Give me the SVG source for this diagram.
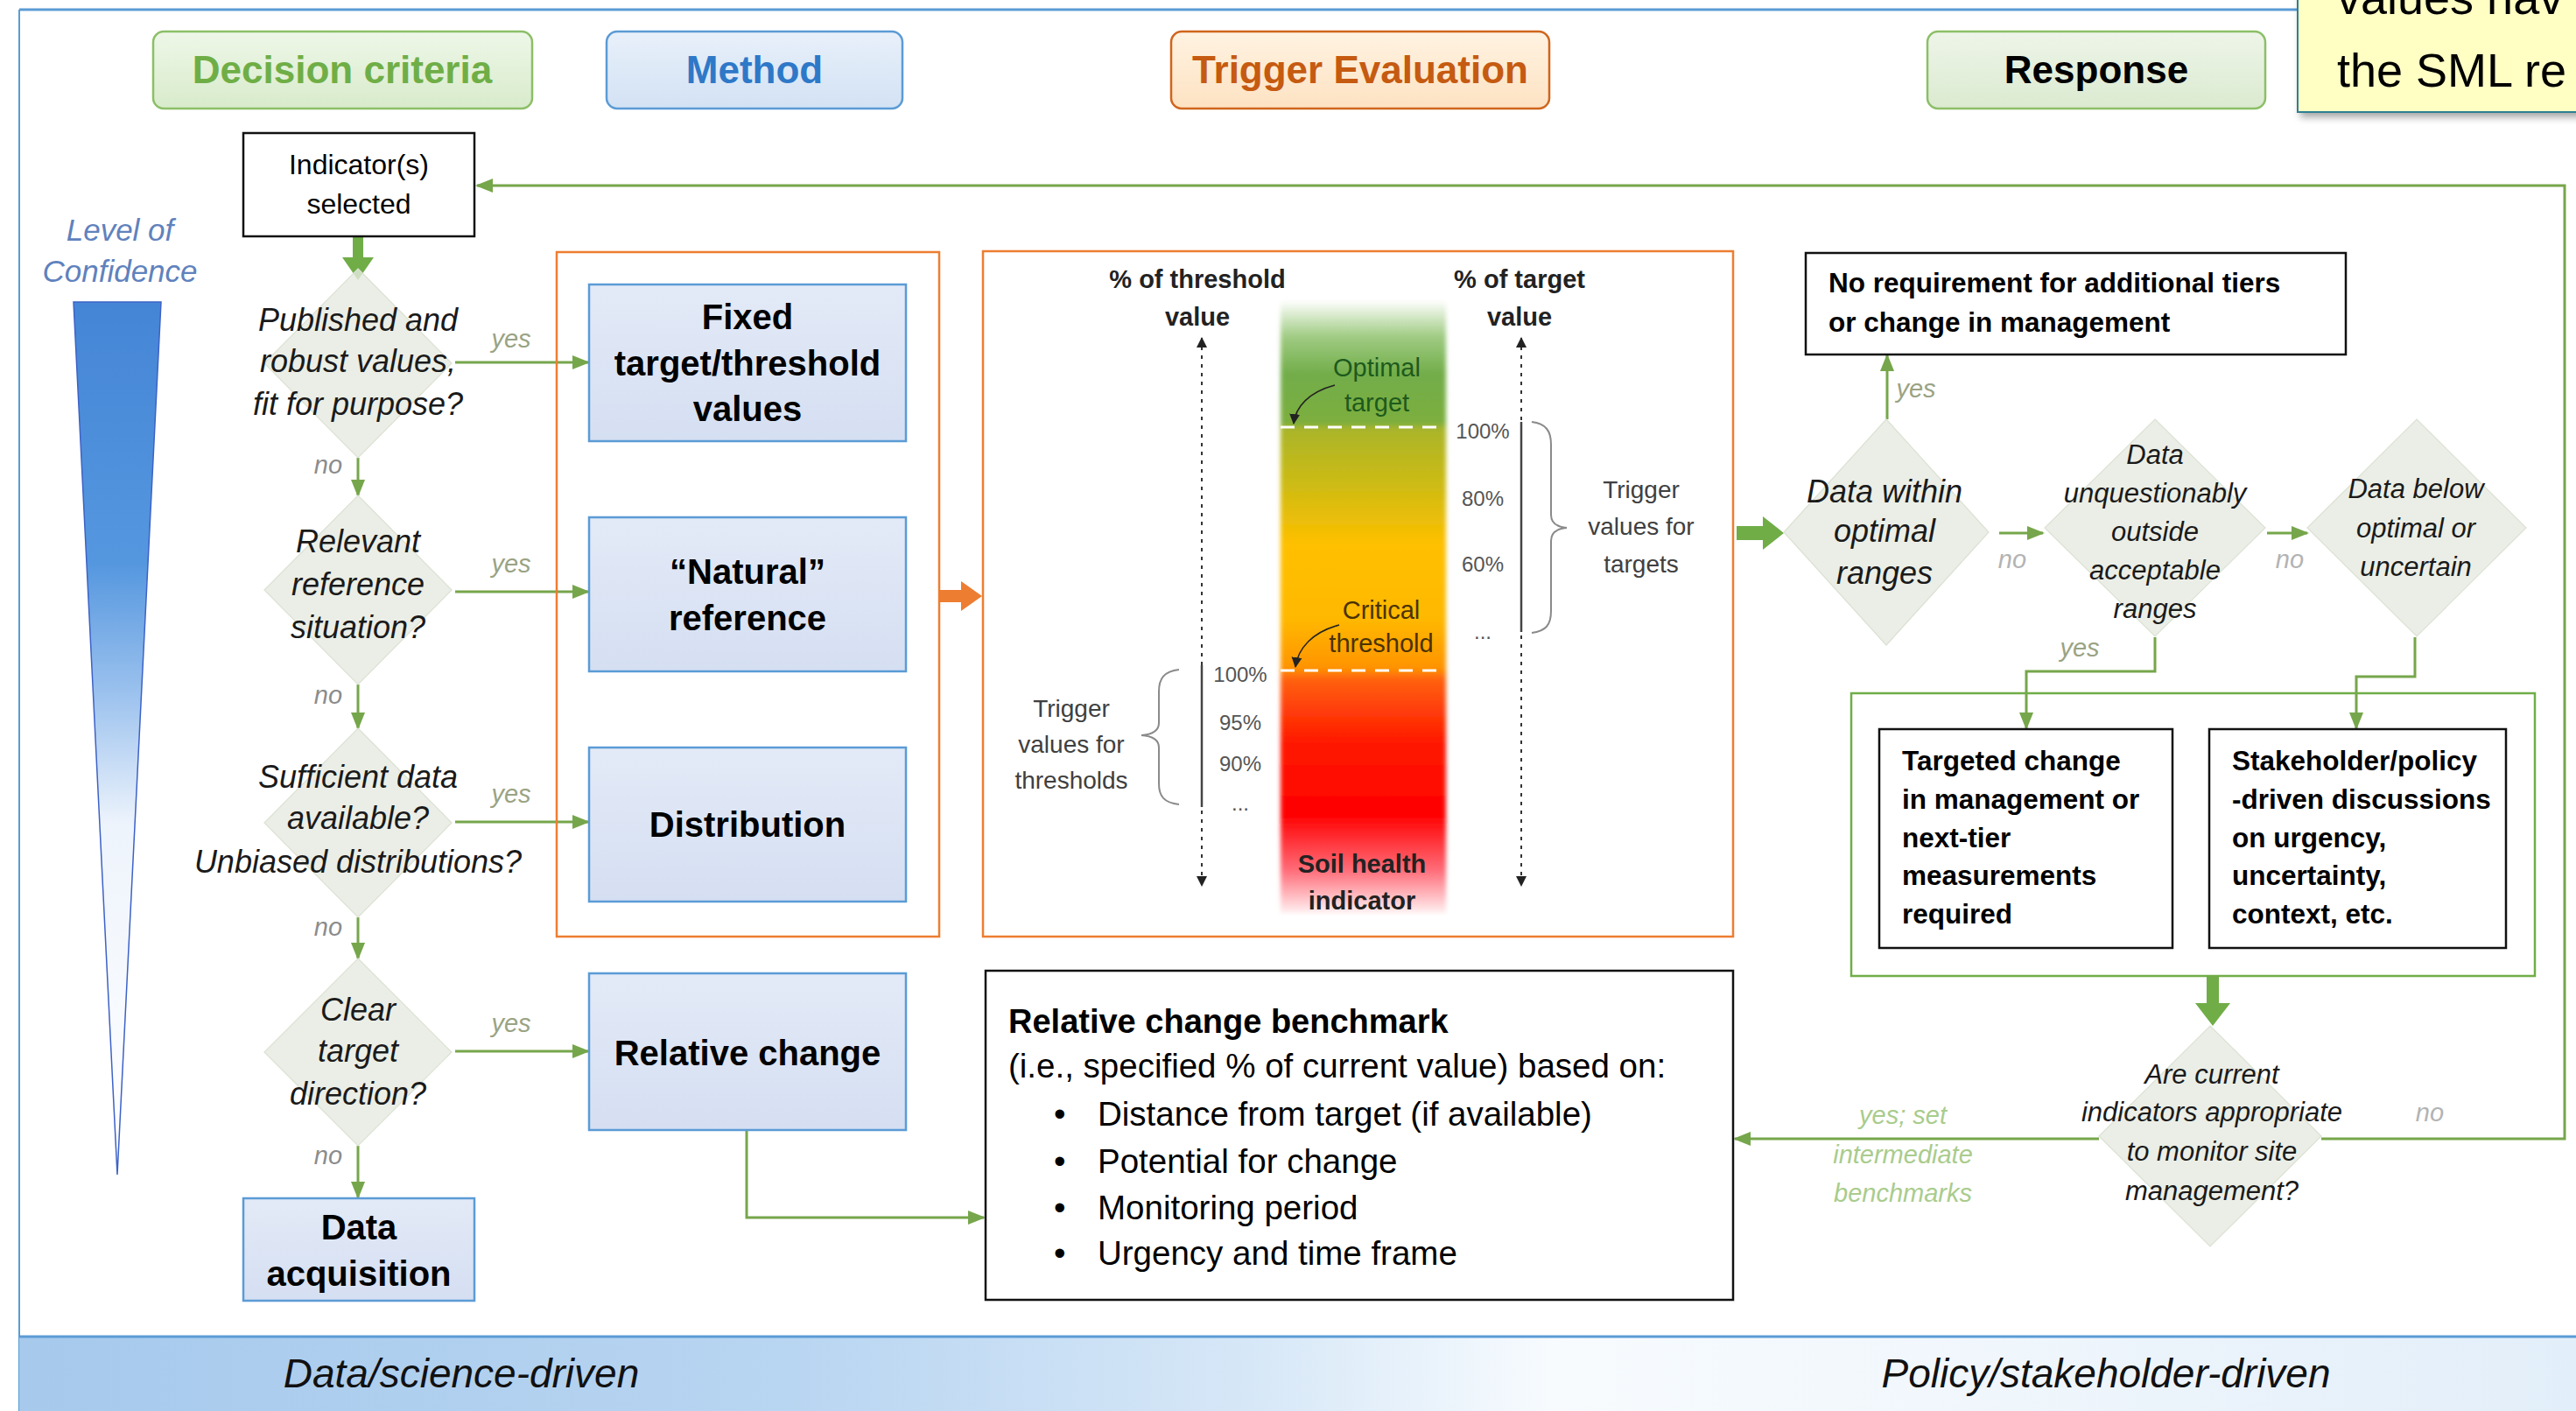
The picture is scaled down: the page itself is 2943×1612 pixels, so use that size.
<svg xmlns="http://www.w3.org/2000/svg" width="2943" height="1612" viewBox="0 0 2943 1612">
  <defs>
    <style>
      text { font-family: "Liberation Sans", Arial, sans-serif; fill: #000; }
      .hdr { font-size: 44px; font-weight: bold; text-anchor: middle; }
      .meth { font-size: 40px; font-weight: bold; text-anchor: middle; }
      .q { font-size: 36px; font-style: italic; text-anchor: middle; fill: #1a1a1a; }
      .qs { font-size: 31px; font-style: italic; text-anchor: middle; fill: #1a1a1a; }
      .lbl { font-size: 29px; font-style: italic; fill: #9aa383; text-anchor: middle; }
      .box { font-size: 31.5px; font-weight: bold; }
      .ax { font-size: 29px; font-weight: bold; text-anchor: middle; fill: #222; }
      .pct { font-size: 24px; text-anchor: middle; fill: #555; }
      .trg { font-size: 28px; text-anchor: middle; fill: #404040; }
      .band { font-size: 46px; font-style: italic; text-anchor: middle; fill: #111; }
      .bm { font-size: 38.5px; }
      .mbox { fill: url(#gMeth); stroke: #5b9bd5; stroke-width: 2.5; }
      .dia { fill: #e6eae0; fill-opacity: 0.8; stroke: #dbe1d3; stroke-width: 1.2; }
      .conA { fill: none; stroke: #76a64b; stroke-width: 3; marker-end: url(#arrG); }
      .wbox { fill: #fff; stroke: #111; stroke-width: 2.5; }
    </style>
    <marker id="arrG" markerUnits="userSpaceOnUse" markerWidth="22" markerHeight="20" refX="18" refY="10" orient="auto">
      <path d="M0,2 L20,10 L0,18 Z" fill="#76a64b"/>
    </marker>
    <marker id="arrK" markerUnits="userSpaceOnUse" markerWidth="14" markerHeight="14" refX="11" refY="7" orient="auto">
      <path d="M0,1 L12,7 L0,13 Z" fill="#222"/>
    </marker>
    <marker id="arrKs" markerUnits="userSpaceOnUse" markerWidth="14" markerHeight="14" refX="1" refY="7" orient="auto">
      <path d="M12,1 L0,7 L12,13 Z" fill="#222"/>
    </marker>
    <linearGradient id="gMeth" x1="0" y1="0" x2="0" y2="1">
      <stop offset="0" stop-color="#e3eaf7"/>
      <stop offset="1" stop-color="#d5dff2"/>
    </linearGradient>
    <linearGradient id="gGreenBtn" x1="0" y1="0" x2="0" y2="1">
      <stop offset="0" stop-color="#eef7e8"/>
      <stop offset="1" stop-color="#d8ebcb"/>
    </linearGradient>
    <linearGradient id="gBlueBtn" x1="0" y1="0" x2="0" y2="1">
      <stop offset="0" stop-color="#e8f0fa"/>
      <stop offset="1" stop-color="#d3e2f4"/>
    </linearGradient>
    <linearGradient id="gOrgBtn" x1="0" y1="0" x2="0" y2="1">
      <stop offset="0" stop-color="#fff3e2"/>
      <stop offset="1" stop-color="#fde2c2"/>
    </linearGradient>
    <linearGradient id="gResBtn" x1="0" y1="0" x2="0" y2="1">
      <stop offset="0" stop-color="#eef5e9"/>
      <stop offset="1" stop-color="#dbead0"/>
    </linearGradient>
    <linearGradient id="gWedge" x1="0" y1="0" x2="0" y2="1">
      <stop offset="0" stop-color="#4585d6"/>
      <stop offset="0.3" stop-color="#5597df"/>
      <stop offset="0.45" stop-color="#9cc2ee"/>
      <stop offset="0.6" stop-color="#eef4fc"/>
      <stop offset="1" stop-color="#ffffff"/>
    </linearGradient>
    <linearGradient id="gBar" x1="0" y1="0" x2="0" y2="1">
      <stop offset="0" stop-color="#ffffff"/>
      <stop offset="0.06" stop-color="#9fcb82"/>
      <stop offset="0.12" stop-color="#72ad4a"/>
      <stop offset="0.2" stop-color="#7cae3e"/>
      <stop offset="0.21" stop-color="#aab52a"/>
      <stop offset="0.3" stop-color="#cdbb14"/>
      <stop offset="0.4" stop-color="#ffc000"/>
      <stop offset="0.52" stop-color="#ffb800"/>
      <stop offset="0.6" stop-color="#ff9400"/>
      <stop offset="0.62" stop-color="#ff6010"/>
      <stop offset="0.72" stop-color="#ff1a00"/>
      <stop offset="0.84" stop-color="#ff0000"/>
      <stop offset="0.93" stop-color="#ff6c78"/>
      <stop offset="1" stop-color="#fff0f1"/>
    </linearGradient>
    <linearGradient id="gBand" x1="0" y1="0" x2="1" y2="0">
      <stop offset="0" stop-color="#a6c9ec"/>
      <stop offset="0.3" stop-color="#b8d5f1"/>
      <stop offset="0.48" stop-color="#d6e7f7"/>
      <stop offset="0.6" stop-color="#f7fbfe"/>
      <stop offset="0.75" stop-color="#f1f7fc"/>
      <stop offset="1" stop-color="#e2eef9"/>
    </linearGradient>
    <filter id="soft" x="-5%" y="-5%" width="110%" height="110%">
      <feGaussianBlur stdDeviation="2.5"/>
    </filter>
    <filter id="shadow" x="-10%" y="-10%" width="130%" height="140%">
      <feDropShadow dx="4" dy="5" stdDeviation="4" flood-color="#000" flood-opacity="0.35"/>
    </filter>
  </defs>

  <rect width="2943" height="1612" fill="#fff"/>

  <!-- outer frame -->
  <g id="frame">
    <line x1="22" y1="11" x2="2630" y2="11" stroke="#5b9bd5" stroke-width="3"/>
    <line x1="22" y1="11" x2="22" y2="1612" stroke="#5b9bd5" stroke-width="2"/>
  </g>

  <!-- bottom band -->
  <g id="band">
    <rect x="22" y="1526" width="2921" height="86" fill="url(#gBand)"/>
    <line x1="22" y1="1527" x2="2943" y2="1527" stroke="#5b9bd5" stroke-width="3"/>
    <text class="band" x="527" y="1585">Data/science-driven</text>
    <text class="band" x="2406" y="1585">Policy/stakeholder-driven</text>
  </g>

  <!-- column headers -->
  <g id="hdr-decision">
    <rect x="175" y="36" width="433" height="88" rx="12" fill="url(#gGreenBtn)" stroke="#8cbf67" stroke-width="2.5"/>
    <text class="hdr" x="391" y="95" style="fill:#6fae46">Decision criteria</text>
  </g>
  <g id="hdr-method">
    <rect x="693" y="36" width="338" height="88" rx="12" fill="url(#gBlueBtn)" stroke="#5b9bd5" stroke-width="2.5"/>
    <text class="hdr" x="862" y="95" style="fill:#2e78c8">Method</text>
  </g>
  <g id="hdr-trigger">
    <rect x="1338" y="36" width="432" height="88" rx="12" fill="url(#gOrgBtn)" stroke="#d0651c" stroke-width="2.5"/>
    <text class="hdr" x="1554" y="95" style="fill:#c55a11">Trigger Evaluation</text>
  </g>
  <g id="hdr-response">
    <rect x="2202" y="36" width="386" height="88" rx="12" fill="url(#gResBtn)" stroke="#8cbf67" stroke-width="2.5"/>
    <text class="hdr" x="2395" y="95">Response</text>
  </g>

  <!-- sticky note, running off the top-right corner -->
  <g id="note">
    <rect x="2625" y="-12" width="340" height="140" fill="#ffffc4" stroke="#2f7f92" stroke-width="2" filter="url(#shadow)"/>
    <text x="2670" y="16" style="font-size:54px">values hav</text>
    <text x="2670" y="99" style="font-size:54px">the SML re</text>
  </g>

  <!-- level of confidence wedge -->
  <g id="confidence">
    <text x="137" y="275" style="font-size:35px;font-style:italic;fill:#5f82bd;text-anchor:middle">Level of</text>
    <text x="137" y="322" style="font-size:35px;font-style:italic;fill:#5f82bd;text-anchor:middle">Confidence</text>
    <polygon points="84,345 184,345 134,1342" fill="url(#gWedge)" stroke="#3d62c6" stroke-width="1.5"/>
  </g>

  <!-- connectors -->
  <g id="connectors">
    <!-- indicator to first question (thick) -->
    <polygon points="403,268 415,268 415,294 427,294 409,320 391,294 403,294" fill="#70ad47"/>
    <!-- "no" chain -->
    <line class="conA" x1="409" y1="523" x2="409" y2="566"/>
    <line class="conA" x1="409" y1="782" x2="409" y2="832"/>
    <line class="conA" x1="409" y1="1048" x2="409" y2="1095"/>
    <line class="conA" x1="409" y1="1309" x2="409" y2="1368"/>
    <!-- "yes" branches -->
    <line class="conA" x1="520" y1="414" x2="672" y2="414"/>
    <line class="conA" x1="520" y1="676" x2="672" y2="676"/>
    <line class="conA" x1="520" y1="939" x2="672" y2="939"/>
    <line class="conA" x1="520" y1="1201" x2="672" y2="1201"/>
    <!-- relative change to benchmark -->
    <path class="conA" d="M853,1292 V1391 H1124"/>
    <!-- method panel to trigger panel (thick orange) -->
    <polygon points="1074,674 1098,674 1098,664 1122,681 1098,698 1098,688 1074,688" fill="#ed7d31"/>
    <!-- trigger panel to response (thick green) -->
    <polygon points="1984,601 2014,601 2014,590 2038,609 2014,628 2014,617 1984,617" fill="#70ad47"/>
    <!-- response decisions -->
    <line class="conA" x1="2156" y1="479" x2="2156" y2="406"/>
    <line class="conA" x1="2284" y1="609" x2="2334" y2="609"/>
    <line class="conA" x1="2590" y1="609" x2="2636" y2="609"/>
    <path class="conA" d="M2462,728 V767 H2315 V832"/>
    <path class="conA" d="M2759,728 V773 H2692 V832"/>
    <!-- response frame to monitoring question (thick) -->
    <polygon points="2521,1116 2535,1116 2535,1146 2548,1146 2528,1172 2508,1146 2521,1146" fill="#70ad47"/>
    <!-- yes: intermediate benchmarks -->
    <line class="conA" x1="2398" y1="1301" x2="1982" y2="1301"/>
    <!-- no: back to indicator selection -->
    <path class="conA" d="M2652,1301 H2930 V212 H545"/>
  </g>

  <!-- labels on connectors -->
  <g id="conn-labels">
    <text class="lbl" x="375" y="541" style="fill:#8c8c8c">no</text>
    <text class="lbl" x="375" y="804" style="fill:#8c8c8c">no</text>
    <text class="lbl" x="375" y="1069" style="fill:#8c8c8c">no</text>
    <text class="lbl" x="375" y="1330" style="fill:#8c8c8c">no</text>
    <text class="lbl" x="584" y="397">yes</text>
    <text class="lbl" x="584" y="654">yes</text>
    <text class="lbl" x="584" y="917">yes</text>
    <text class="lbl" x="584" y="1179">yes</text>
    <text class="lbl" x="2189" y="454">yes</text>
    <text class="lbl" x="2299" y="649" style="fill:#b3b3b3">no</text>
    <text class="lbl" x="2616" y="649" style="fill:#b3b3b3">no</text>
    <text class="lbl" x="2376" y="750">yes</text>
    <text class="lbl" x="2776" y="1281" style="fill:#b3b3b3">no</text>
    <text class="lbl" x="2174" y="1284" style="fill:#a9cc8c">yes; set</text>
    <text class="lbl" x="2174" y="1329" style="fill:#a9cc8c">intermediate</text>
    <text class="lbl" x="2174" y="1373" style="fill:#a9cc8c">benchmarks</text>
  </g>

  <!-- decision column -->
  <g id="indicator">
    <rect class="wbox" x="278" y="152" width="264" height="118"/>
    <text x="410" y="199" style="font-size:32px;text-anchor:middle">Indicator(s)</text>
    <text x="410" y="244" style="font-size:32px;text-anchor:middle">selected</text>
  </g>
  <g id="q-published">
    <polygon class="dia" points="409,307 516,415 409,523 302,415"/>
    <text class="q" x="409" y="378">Published and</text>
    <text class="q" x="409" y="425">robust values,</text>
    <text class="q" x="409" y="474">fit for purpose?</text>
  </g>
  <g id="q-reference">
    <polygon class="dia" points="409,566 516,674 409,782 302,674"/>
    <text class="q" x="409" y="631">Relevant</text>
    <text class="q" x="409" y="680">reference</text>
    <text class="q" x="409" y="729">situation?</text>
  </g>
  <g id="q-data">
    <polygon class="dia" points="409,832 516,940 409,1048 302,940"/>
    <text class="q" x="409" y="900">Sufficient data</text>
    <text class="q" x="409" y="947">available?</text>
    <text class="q" x="409" y="997">Unbiased distributions?</text>
  </g>
  <g id="q-direction">
    <polygon class="dia" points="409,1095 516,1202 409,1309 302,1202"/>
    <text class="q" x="409" y="1166">Clear</text>
    <text class="q" x="409" y="1213">target</text>
    <text class="q" x="409" y="1262">direction?</text>
  </g>
  <g id="data-acquisition">
    <rect class="mbox" x="278" y="1369" width="264" height="117"/>
    <text class="meth" x="410" y="1416">Data</text>
    <text class="meth" x="410" y="1469">acquisition</text>
  </g>

  <!-- method column -->
  <g id="method-panel">
    <rect x="636" y="288" width="437" height="782" fill="none" stroke="#ed7d31" stroke-width="2.5"/>
  </g>
  <g id="m-fixed">
    <rect class="mbox" x="673" y="325" width="362" height="179"/>
    <text class="meth" x="854" y="376">Fixed</text>
    <text class="meth" x="854" y="429">target/threshold</text>
    <text class="meth" x="854" y="481">values</text>
  </g>
  <g id="m-natural">
    <rect class="mbox" x="673" y="591" width="362" height="176"/>
    <text class="meth" x="854" y="667">“Natural”</text>
    <text class="meth" x="854" y="720">reference</text>
  </g>
  <g id="m-distribution">
    <rect class="mbox" x="673" y="854" width="362" height="176"/>
    <text class="meth" x="854" y="956">Distribution</text>
  </g>
  <g id="m-relative">
    <rect class="mbox" x="673" y="1112" width="362" height="179"/>
    <text class="meth" x="854" y="1217">Relative change</text>
  </g>

  <!-- trigger evaluation panel -->
  <g id="trigger-panel">
    <rect x="1123" y="287" width="857" height="783" fill="#fff" stroke="#ed7d31" stroke-width="2.5"/>
    <rect x="1463" y="343" width="189" height="700" fill="url(#gBar)" filter="url(#soft)"/>
    <line x1="1463" y1="488" x2="1652" y2="488" stroke="#fff" stroke-width="3" stroke-dasharray="16 11"/>
    <line x1="1463" y1="766" x2="1652" y2="766" stroke="#fff" stroke-width="3" stroke-dasharray="16 11"/>
    <text x="1573" y="430" style="font-size:29px;text-anchor:middle;fill:#1d5a1d">Optimal</text>
    <text x="1573" y="470" style="font-size:29px;text-anchor:middle;fill:#1d5a1d">target</text>
    <path d="M1525,440 C1495,448 1480,465 1478,484" fill="none" stroke="#222" stroke-width="1.5" marker-end="url(#arrK)"/>
    <text x="1578" y="707" style="font-size:29px;text-anchor:middle;fill:#4a3200">Critical</text>
    <text x="1578" y="745" style="font-size:29px;text-anchor:middle;fill:#4a3200">threshold</text>
    <path d="M1530,714 C1500,722 1483,740 1480,762" fill="none" stroke="#222" stroke-width="1.5" marker-end="url(#arrK)"/>
    <text class="ax" x="1556" y="997">Soil health</text>
    <text class="ax" x="1556" y="1039">indicator</text>

    <!-- threshold axis -->
    <text class="ax" x="1368" y="329">% of threshold</text>
    <text class="ax" x="1368" y="372">value</text>
    <line x1="1373" y1="386" x2="1373" y2="1012" stroke="#333" stroke-width="2" stroke-dasharray="4 6" marker-start="url(#arrKs)" marker-end="url(#arrK)"/>
    <line x1="1373" y1="760" x2="1373" y2="922" stroke="#444" stroke-width="2.5"/>
    <text class="pct" x="1417" y="779">100%</text>
    <text class="pct" x="1417" y="834">95%</text>
    <text class="pct" x="1417" y="881">90%</text>
    <text class="pct" x="1417" y="926">...</text>
    <path d="M1347,765 C1330,767 1324,775 1324,790 V826 C1324,834 1318,839 1304,840 C1318,841 1324,846 1324,854 V895 C1324,910 1330,917 1347,919" fill="none" stroke="#8a8a8a" stroke-width="2"/>
    <text class="trg" x="1224" y="819">Trigger</text>
    <text class="trg" x="1224" y="860">values for</text>
    <text class="trg" x="1224" y="901">thresholds</text>

    <!-- target axis -->
    <text class="ax" x="1736" y="329">% of target</text>
    <text class="ax" x="1736" y="372">value</text>
    <line x1="1738" y1="386" x2="1738" y2="1012" stroke="#333" stroke-width="2" stroke-dasharray="4 6" marker-start="url(#arrKs)" marker-end="url(#arrK)"/>
    <line x1="1738" y1="482" x2="1738" y2="722" stroke="#444" stroke-width="2.5"/>
    <text class="pct" x="1694" y="501">100%</text>
    <text class="pct" x="1694" y="578">80%</text>
    <text class="pct" x="1694" y="653">60%</text>
    <text class="pct" x="1694" y="730">...</text>
    <path d="M1750,482 C1766,484 1772,492 1772,508 V588 C1772,597 1778,602 1790,603 C1778,604 1772,609 1772,618 V698 C1772,714 1766,721 1750,723" fill="none" stroke="#8a8a8a" stroke-width="2"/>
    <text class="trg" x="1875" y="569">Trigger</text>
    <text class="trg" x="1875" y="611">values for</text>
    <text class="trg" x="1875" y="654">targets</text>
  </g>

  <!-- relative change benchmark -->
  <g id="benchmark">
    <rect class="wbox" x="1126" y="1109" width="854" height="376"/>
    <text x="1152" y="1180" style="font-size:38px;font-weight:bold">Relative change benchmark</text>
    <text class="bm" x="1152" y="1231">(i.e., specified % of current value) based on:</text>
    <text class="bm" x="1204" y="1286">•</text>
    <text class="bm" x="1254" y="1286">Distance from target (if available)</text>
    <text class="bm" x="1204" y="1340">•</text>
    <text class="bm" x="1254" y="1340">Potential for change</text>
    <text class="bm" x="1204" y="1393">•</text>
    <text class="bm" x="1254" y="1393">Monitoring  period</text>
    <text class="bm" x="1204" y="1445">•</text>
    <text class="bm" x="1254" y="1445">Urgency and time frame</text>
  </g>

  <!-- response column -->
  <g id="no-change">
    <rect class="wbox" x="2063" y="289" width="617" height="116"/>
    <text class="box" x="2089" y="334">No requirement for additional  tiers</text>
    <text class="box" x="2089" y="379">or change in management</text>
  </g>
  <g id="q-within">
    <polygon class="dia" points="2155,479 2272,608 2155,737 2038,608"/>
    <text class="q" x="2153" y="574">Data within</text>
    <text class="q" x="2153" y="619">optimal</text>
    <text class="q" x="2153" y="667">ranges</text>
  </g>
  <g id="q-outside">
    <polygon class="dia" points="2462,479 2588,603 2462,727 2336,603"/>
    <text class="qs" x="2462" y="530">Data</text>
    <text class="qs" x="2462" y="574">unquestionably</text>
    <text class="qs" x="2462" y="618">outside</text>
    <text class="qs" x="2462" y="662">acceptable</text>
    <text class="qs" x="2462" y="706">ranges</text>
  </g>
  <g id="q-below">
    <polygon class="dia" points="2761,479 2886,603 2761,727 2636,603"/>
    <text class="qs" x="2760" y="569">Data below</text>
    <text class="qs" x="2760" y="614">optimal or</text>
    <text class="qs" x="2760" y="658">uncertain</text>
  </g>
  <g id="response-panel">
    <rect x="2115" y="792" width="781" height="323" fill="none" stroke="#70ad47" stroke-width="2.5"/>
  </g>
  <g id="r-targeted">
    <rect class="wbox" x="2147" y="833" width="335" height="250"/>
    <text class="box" x="2173" y="880">Targeted change</text>
    <text class="box" x="2173" y="924">in management or</text>
    <text class="box" x="2173" y="968">next-tier</text>
    <text class="box" x="2173" y="1011">measurements</text>
    <text class="box" x="2173" y="1055">required</text>
  </g>
  <g id="r-stakeholder">
    <rect class="wbox" x="2524" y="833" width="339" height="250"/>
    <text class="box" x="2550" y="880">Stakeholder/policy</text>
    <text class="box" x="2550" y="924">-driven discussions</text>
    <text class="box" x="2550" y="968">on urgency,</text>
    <text class="box" x="2550" y="1011">uncertainty,</text>
    <text class="box" x="2550" y="1055">context, etc.</text>
  </g>
  <g id="q-monitor">
    <polygon class="dia" points="2525,1172 2652,1298 2525,1424 2398,1298"/>
    <text class="qs" x="2527" y="1238">Are current</text>
    <text class="qs" x="2527" y="1281">indicators appropriate</text>
    <text class="qs" x="2527" y="1326">to monitor site</text>
    <text class="qs" x="2527" y="1371">management?</text>
  </g>
</svg>
